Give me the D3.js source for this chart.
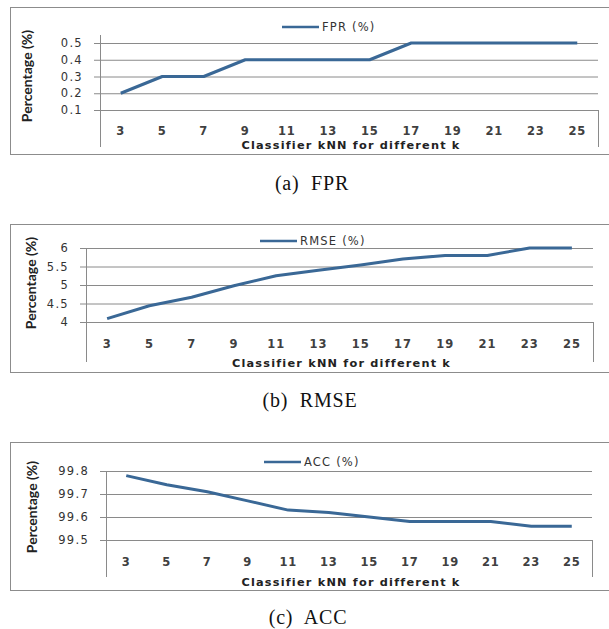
<!DOCTYPE html>
<html>
<head>
<meta charset="utf-8">
<script src="https://cdn.jsdelivr.net/npm/d3@7"></script>
<style>
  body { margin: 0; background: #fff; }
</style>
</head>
<body>
<svg id="knn"></svg>
<script>
// data
const kValues = [3, 5, 7, 9, 11, 13, 15, 17, 19, 21, 23, 25];
const fprValues = [0.2, 0.3, 0.3, 0.4, 0.4, 0.4, 0.4, 0.5, 0.5, 0.5, 0.5, 0.5];
const rmseValues = [4.09, 4.44, 4.67, 4.98, 5.25, 5.4, 5.54, 5.7, 5.8, 5.8, 6.0, 6.0];
const accValues = [99.78, 99.74, 99.71, 99.67, 99.63, 99.62, 99.6, 99.58, 99.58, 99.58, 99.56, 99.56];
const fprTicks = [0.1, 0.2, 0.3, 0.4, 0.5];
const rmseTicks = [4, 4.5, 5, 5.5, 6];
const accTicks = [99.5, 99.6, 99.7, 99.8];
const seriesNames = ["FPR (%)", "RMSE (%)", "ACC (%)"];
const captions = ["(a)  FPR", "(b)  RMSE", "(c)  ACC"];

const width = 609, height = 629;
const lineColor = "#3a6896";
const gridColor = "#8a8a8a";
const sans = "'DejaVu Sans', sans-serif";

const svg = d3.select("#knn")
    .attr("width", width)
    .attr("height", height);

// layout of each sub-figure
const panels = [
  { values: fprValues, ticks: fprTicks, fmt: d3.format(".1f"), name: seriesNames[0], caption: captions[0],
    box: [10, 7, 147], left: 100, right: 598, top: 43, bottom: 110, axisTop: 35, axisBottom: 147,
    labelY: 131, titleY: 145, legendX: 282, legendY: 27, yTitleX: 27, yTitleY: 76, captionY: 183, captionX: 312 },
  { values: rmseValues, ticks: rmseTicks, fmt: d3.format("~g"), name: seriesNames[1], caption: captions[1],
    box: [10, 224, 148], left: 86, right: 593, top: 248, bottom: 322, axisTop: 248, axisBottom: 362,
    labelY: 344, titleY: 363, legendX: 260, legendY: 241, yTitleX: 31, yTitleY: 283, captionY: 400, captionX: 310 },
  { values: accValues, ticks: accTicks, fmt: d3.format(".1f"), name: seriesNames[2], caption: captions[2],
    box: [10, 442, 148], left: 106, right: 592, top: 471, bottom: 540, axisTop: 471, axisBottom: 577,
    labelY: 562, titleY: 582, legendX: 264, legendY: 462, yTitleX: 32, yTitleY: 507, captionY: 617, captionX: 308 }
];

panels.forEach(p => {
  const g = svg.append("g");

  // outer frame (cut by the right page edge)
  g.append("rect")
      .attr("x", p.box[0] + 0.5).attr("y", p.box[1] + 0.5)
      .attr("width", 640).attr("height", p.box[2])
      .attr("fill", "none").attr("stroke", "#8c8c8c");

  const x = d3.scaleBand()
      .domain(kValues)
      .range([p.left, p.right]);

  const y = d3.scaleLinear()
      .domain(d3.extent(p.ticks))
      .range([p.bottom, p.top]);

  // y axis with gridlines
  g.append("g")
      .attr("transform", `translate(${p.left},0)`)
      .call(d3.axisLeft(y).tickValues(p.ticks).tickFormat(p.fmt)
          .tickSizeInner(-(p.right - p.left)).tickSizeOuter(0).tickPadding(17))
      .call(g => g.select(".domain").remove())
      .call(g => g.selectAll(".tick line")
          .attr("stroke", gridColor)
          .attr("x1", -6)
          .attr("x2", p.right - p.left))
      .call(g => g.selectAll(".tick text")
          .attr("fill", "#333")
          .attr("font-size", 11.5)
          .style("font-family", sans)
          .style("letter-spacing", "1.3px"));

  // vertical axis line and right divider of the category area
  g.append("line")
      .attr("x1", p.left + 0.5).attr("x2", p.left + 0.5)
      .attr("y1", p.axisTop).attr("y2", p.axisBottom)
      .attr("stroke", gridColor);
  g.append("line")
      .attr("x1", p.right + 0.5).attr("x2", p.right + 0.5)
      .attr("y1", p.bottom).attr("y2", p.axisBottom)
      .attr("stroke", gridColor);

  // category labels
  g.append("g")
      .attr("transform", `translate(0,${p.labelY})`)
      .call(d3.axisBottom(x).tickSize(0).tickPadding(0))
      .call(g => g.select(".domain").remove())
      .call(g => g.selectAll(".tick text")
          .attr("dy", "0.35em")
          .attr("fill", "#404040")
          .attr("font-size", 11.5)
          .attr("font-weight", 700)
          .style("font-family", sans)
          .style("letter-spacing", "0.8px"));

  g.append("text")
      .attr("x", (p.left + p.right) / 2 + 2)
      .attr("y", p.titleY)
      .attr("dy", "0.35em")
      .attr("text-anchor", "middle")
      .attr("font-size", 11.3)
      .attr("font-weight", 700)
      .attr("fill", "#222")
      .style("font-family", sans)
      .style("letter-spacing", "1.2px")
      .text("Classifier kNN for different k");

  g.append("text")
      .attr("transform", `translate(${p.yTitleX},${p.yTitleY}) rotate(-90)`)
      .attr("dy", "0.35em")
      .attr("text-anchor", "middle")
      .attr("font-size", 14)
      .attr("font-weight", 700)
      .attr("fill", "#222")
      .style("font-family", "Lato, sans-serif")
      .text("Percentage (%)");

  // legend
  g.append("line")
      .attr("x1", p.legendX).attr("x2", p.legendX + 37)
      .attr("y1", p.legendY).attr("y2", p.legendY)
      .attr("stroke", lineColor).attr("stroke-width", 2.5);
  g.append("text")
      .attr("x", p.legendX + 40)
      .attr("y", p.legendY)
      .attr("dy", "0.35em")
      .attr("font-size", 11.5)
      .attr("fill", "#333")
      .style("font-family", sans)
      .style("letter-spacing", "1.2px")
      .text(p.name);

  // series
  const line = d3.line()
      .x((d, i) => x(kValues[i]) + x.bandwidth() / 2)
      .y(d => y(d));

  g.append("path")
      .datum(p.values)
      .attr("d", line)
      .attr("fill", "none")
      .attr("stroke", lineColor)
      .attr("stroke-width", 3)
      .attr("stroke-linejoin", "round");

  // caption below the figure
  g.append("text")
      .attr("x", p.captionX)
      .attr("y", p.captionY)
      .attr("dy", "0.35em")
      .attr("text-anchor", "middle")
      .attr("font-size", 20)
      .attr("fill", "#111")
      .style("font-family", "'Liberation Serif', 'DejaVu Serif', serif")
      .style("letter-spacing", "0.8px")
      .style("white-space", "pre")
      .text(p.caption);
});
</script>
</body>
</html>
